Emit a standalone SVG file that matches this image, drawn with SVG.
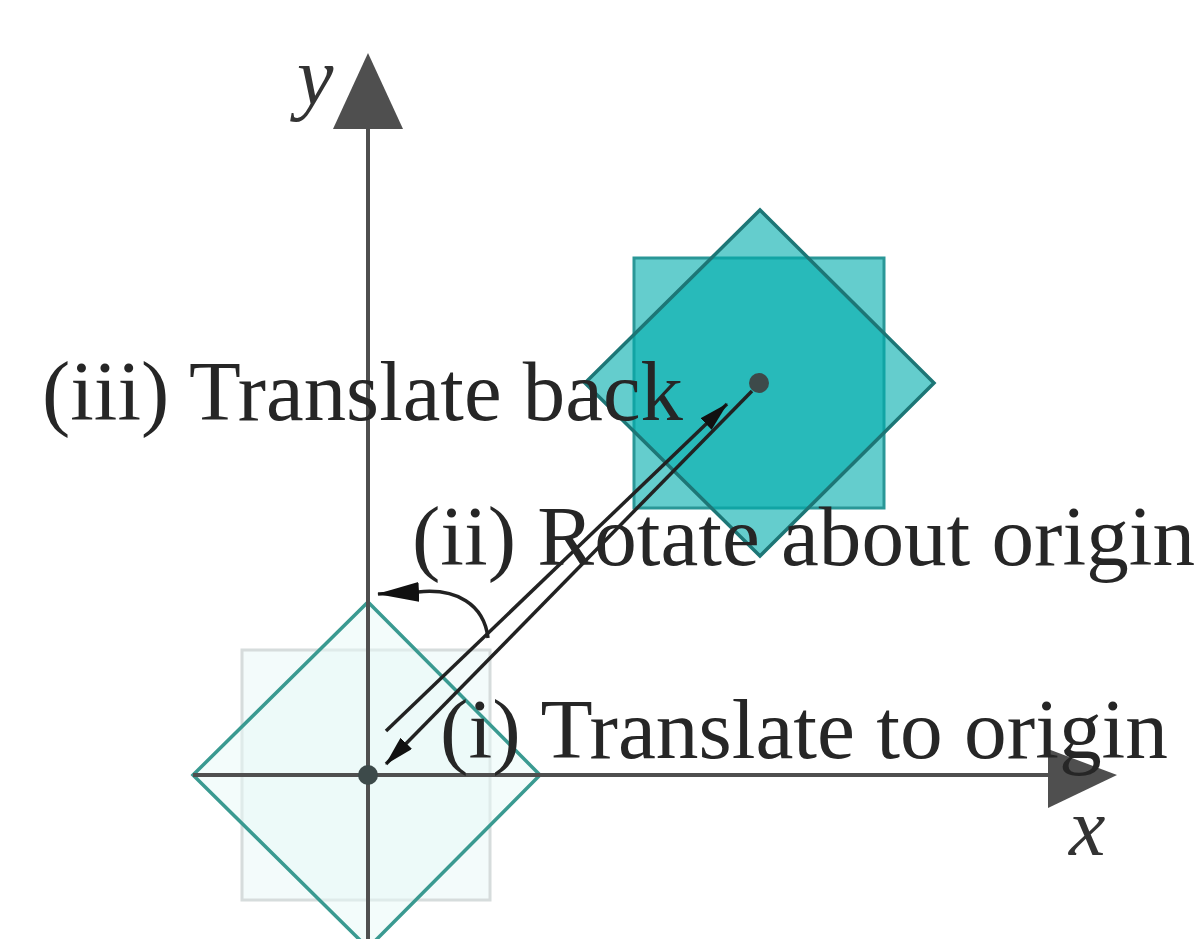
<svg xmlns="http://www.w3.org/2000/svg" width="1204" height="939" viewBox="0 0 1204 939">
  <style>
    .axis { stroke: #4f4f4f; stroke-width: 4; fill: none; }
    .axhead { fill: #4f4f4f; }
    .conn { stroke: #222; stroke-width: 3.5; fill: none; }
    .lbl { font-family: "Liberation Serif", "Times New Roman", serif; font-size: 84px; fill: #262626; }
    .axlbl { font-family: "Liberation Serif", "Times New Roman", serif; font-style: italic; font-size: 82px; fill: #333; }
    .dot { fill: #3d4a4a; }
  </style>
  <defs>
    <marker id="ah" viewBox="0 0 30 16" refX="29" refY="8" markerWidth="30" markerHeight="16" markerUnits="userSpaceOnUse" orient="auto">
      <path d="M0,0 L30,8 L0,16 z" fill="#111"/>
    </marker>
    <marker id="ahc" viewBox="0 0 42 20" refX="41" refY="10" markerWidth="42" markerHeight="20" markerUnits="userSpaceOnUse" orient="auto">
      <path d="M0,0 L42,10 L0,20 z" fill="#111"/>
    </marker>
  </defs>
  <rect width="1204" height="939" fill="#ffffff"/>

  <g id="original-square">
    <rect x="242" y="650" width="248" height="250" fill="#f3fbfb" stroke="#d6dcdc" stroke-width="3"/>
  </g>
  <g id="original-diamond">
    <polygon points="193,775 368,602 540,775 368,948" fill="#e8f9f8" fill-opacity="0.5" stroke="#3a9a91" stroke-width="3.5"/>
  </g>

  <g id="target-square">
    <rect x="634" y="258" width="250" height="250" fill="#02adad" fill-opacity="0.61" stroke="#2a9797" stroke-width="3"/>
  </g>
  <g id="target-diamond">
    <polygon points="585,383 760,210 934,383 760,556" fill="#02adad" fill-opacity="0.61" stroke="#1d7676" stroke-width="3.5"/>
  </g>

  <g id="axes">
    <line class="axis" x1="368" y1="939" x2="368" y2="126"/>
    <polygon class="axhead" points="368,53 333,129 403,129"/>
    <line class="axis" x1="193" y1="775" x2="1050" y2="775"/>
    <polygon class="axhead" points="1117,775 1048,749 1048,808"/>
  </g>

  <g id="label-y"><text class="axlbl" x="297" y="104">y</text></g>
  <g id="label-x"><text class="axlbl" x="1069" y="855">x</text></g>

  <g id="connectors">
    <line class="conn" x1="386" y1="731" x2="727" y2="404" marker-end="url(#ah)"/>
    <line class="conn" x1="752" y1="391" x2="386" y2="764" marker-end="url(#ah)"/>
    <path class="conn" d="M 488 638 C 484 604, 456 588, 418 592 L 378 594" marker-end="url(#ahc)"/>
  </g>

  <g id="origin-dot"><circle class="dot" cx="368" cy="775" r="10"/></g>
  <g id="center-dot"><circle class="dot" cx="759" cy="383" r="10"/></g>

  <g id="label-iii"><text class="lbl" x="42" y="420" textLength="641" lengthAdjust="spacingAndGlyphs">(iii) Translate back</text></g>
  <g id="label-ii"><text class="lbl" x="412" y="565" textLength="783" lengthAdjust="spacingAndGlyphs">(ii) Rotate about origin</text></g>
  <g id="label-i"><text class="lbl" x="440" y="758" textLength="728" lengthAdjust="spacingAndGlyphs">(i) Translate to origin</text></g>
</svg>
